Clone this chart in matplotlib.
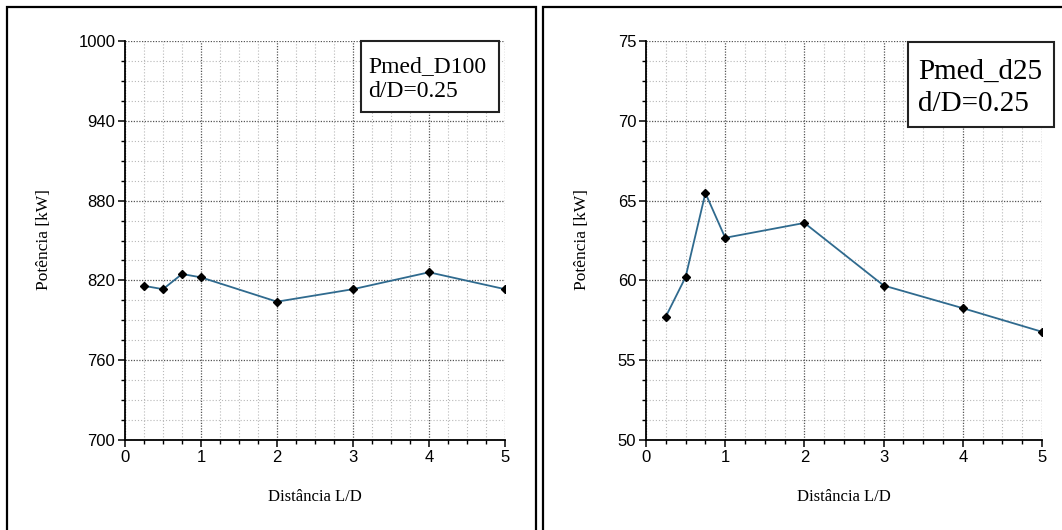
import matplotlib
matplotlib.use("Agg")
import matplotlib.pyplot as plt
from matplotlib.ticker import FixedLocator, MultipleLocator
from matplotlib.patches import Rectangle
import numpy as np

# ---- data ----
ld = [0.25, 0.5, 0.75, 1, 2, 3, 4, 5]
pmed_D100 = [815.9, 813.4, 824.8, 822.3, 804.0, 813.4, 826.1, 813.4]
pmed_d25 = [57.73, 60.21, 65.47, 62.67, 63.60, 59.68, 58.26, 56.78]
yticks_left = [700, 760, 820, 880, 940, 1000]
yticks_right = [50, 55, 60, 65, 70, 75]
xticks = [0, 1, 2, 3, 4, 5]
legend_left = ["Pmed_D100", "d/D=0.25"]
legend_right = ["Pmed_d25", "d/D=0.25"]
xlabel = "Distância L/D"
ylabel = "Potência [kW]"

W, H = 1062, 530
fig = plt.figure(figsize=(W / 100, H / 100), dpi=100)
fig.patch.set_facecolor("white")

SERIF = "Liberation Serif"
SANS = "Liberation Sans"


def fx(px):
    return px / W


def fy(py):
    return 1 - py / H


def make_axes(x0, x1, y0, y1):
    return fig.add_axes([fx(x0), fy(y1), fx(x1) - fx(x0), (y1 - y0) / H])


def style(ax, yticks):
    ax.set_xlim(xticks[0], xticks[-1])
    ax.set_ylim(yticks[0], yticks[-1])
    ax.set_xticks(xticks)
    ax.xaxis.set_minor_locator(MultipleLocator(0.25))
    ax.set_yticks(yticks)
    step = (yticks[1] - yticks[0]) / 4
    ax.yaxis.set_minor_locator(FixedLocator(np.arange(yticks[0], yticks[-1] + step / 2, step)))
    ax.set_axisbelow(True)
    ax.grid(which="minor", color="#b8b8b8", linestyle=(0, (1, 1.8)), linewidth=0.8)
    ax.grid(which="major", color="#555555", linestyle=(0, (1, 1.2)), linewidth=0.9)
    for s in ("top", "right"):
        ax.spines[s].set_visible(False)
    for s in ("left", "bottom"):
        ax.spines[s].set_linewidth(1.3)
        ax.spines[s].set_color("black")
    ax.tick_params(which="major", direction="out", length=5, width=1.1,
                   pad=2, labelsize=12, top=False, right=False)
    ax.tick_params(which="minor", direction="out", length=3, width=1.0,
                   top=False, right=False)
    for lab in ax.get_xticklabels() + ax.get_yticklabels():
        lab.set_fontfamily(SANS)


def legend_box(x0, y0, x1, y1, lines, size, tx, baselines):
    fig.patches.append(Rectangle((fx(x0), fy(y1)), fx(x1) - fx(x0), (y1 - y0) / H,
                                 transform=fig.transFigure, facecolor="white",
                                 edgecolor="#222222", linewidth=1.5, zorder=5))
    for t, b in zip(lines, baselines):
        fig.text(fx(tx), fy(b), t, fontsize=size, family=SERIF, va="baseline",
                 ha="left", zorder=6)


# panel borders
fig.patches.append(Rectangle((fx(7), fy(540)), fx(536) - fx(7), (540 - 7) / H,
                             transform=fig.transFigure, fill=False,
                             edgecolor="black", linewidth=1.6))
fig.patches.append(Rectangle((fx(543), fy(540)), fx(1075) - fx(543), (540 - 7) / H,
                             transform=fig.transFigure, fill=False,
                             edgecolor="black", linewidth=1.6))

# left panel
ax1 = make_axes(125, 505, 41, 440)
style(ax1, yticks_left)
ax1.plot(ld, pmed_D100, color="#2f6a8e", linewidth=1.3, marker="D",
         markersize=4.5, markerfacecolor="black", markeredgecolor="black", zorder=3)
fig.text(fx(44), fy(240), ylabel, rotation=90, family=SERIF, fontsize=12.5,
         ha="center", va="center")
fig.text(fx(315), fy(497), xlabel, family=SERIF, fontsize=12, ha="center", va="center")
legend_box(361, 41, 499, 112, legend_left, 17, 368, [72, 97])

# right panel
ax2 = make_axes(646, 1042, 41, 440)
style(ax2, yticks_right)
ax2.plot(ld, pmed_d25, color="#2f6a8e", linewidth=1.3, marker="D",
         markersize=4.5, markerfacecolor="black", markeredgecolor="black", zorder=3)
fig.text(fx(582), fy(240), ylabel, rotation=90, family=SERIF, fontsize=12.5,
         ha="center", va="center")
fig.text(fx(844), fy(497), xlabel, family=SERIF, fontsize=12, ha="center", va="center")
legend_box(908, 42, 1054, 127, legend_right, 21, 918, [79, 111])

fig.savefig("out.png", dpi=100, facecolor="white")
